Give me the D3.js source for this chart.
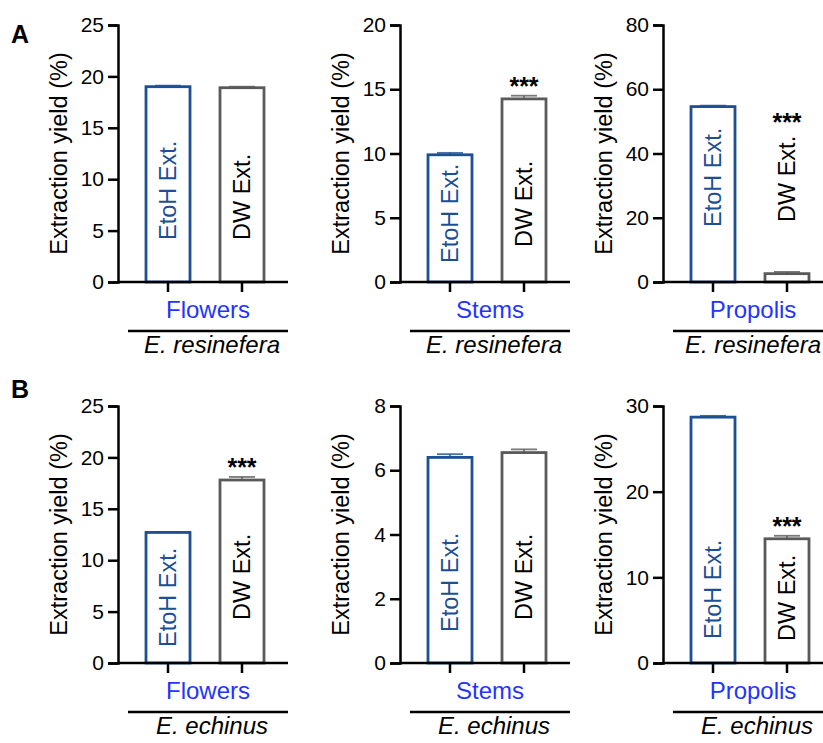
<!DOCTYPE html>
<html>
<head>
<meta charset="utf-8">
<script src="https://cdn.jsdelivr.net/npm/d3@7"></script>
<style>
  body { margin: 0; background: #fff; }
  svg { display: block; font-family: "Liberation Sans", Arial, Helvetica, sans-serif; }
</style>
</head>
<body>
<div id="chart"></div>
<script>
// data
var tissues = ['Flowers', 'Stems', 'Propolis'];
var species = ['E. resinefera', 'E. echinus'];
var extracts = ['EtoH Ext.', 'DW Ext.'];

var etohA = [19.0, 9.9, 54.6];
var etohErrA = [0.1, 0.15, 0.3];
var dwA = [18.9, 14.25, 2.6];
var dwErrA = [0.1, 0.25, 0.55];

var etohB = [12.7, 6.4, 28.7];
var etohErrB = [0.05, 0.1, 0.15];
var dwB = [17.8, 6.55, 14.5];
var dwErrB = [0.3, 0.1, 0.35];

var yMaxA = [25, 20, 80], yStepA = [5, 5, 20];
var yMaxB = [25, 8, 30], yStepB = [5, 2, 10];

var sigA = [['', ''], ['', '***'], ['', '***']];
var sigB = [['', '***'], ['', ''], ['', '***']];

// layout
var width = 823, height = 743;
var axisX = [118, 400, 663];
var rows = [
  {letter: 'A', top: 25, bottom: 282, letterY: 43},
  {letter: 'B', top: 406, bottom: 663, letterY: 398}
];
// distance from the baseline to the end of each rotated bar label
var labelGapA = [[42, 42], [19, 35], [55, 60]];
var labelGapB = [[16, 43], [31, 43], [24, 22]];

var blue = '#1c4f93', grey = '#5a5a5a', brightBlue = '#1f35ff';

var svg = d3.select('#chart').append('svg')
    .attr('width', width)
    .attr('height', height);

function drawPanel(row, col, vals, errs, yMax, step, sig, gaps, speciesName) {
    var x0 = axisX[col];
    var yScale = d3.scaleLinear().domain([0, yMax]).range([row.bottom, row.top]);
    var xScale = d3.scalePoint().domain(extracts).range([x0 + 50, x0 + 124]);
    var barW = 44;

    var g = svg.append('g');

    // y axis
    var yAxis = d3.axisLeft(yScale)
        .tickValues(d3.range(0, yMax + step / 2, step))
        .tickSize(10).tickPadding(4).tickFormat(d3.format('d'));
    var ya = g.append('g').attr('transform', 'translate(' + x0 + ',0)').call(yAxis);
    ya.select('.domain').attr('stroke', '#000').attr('stroke-width', 2.5);
    ya.selectAll('.tick line').attr('stroke', '#000').attr('stroke-width', 2.5);
    ya.selectAll('.tick text').attr('font-size', 21).attr('fill', '#000')
        .attr('font-family', '"Liberation Sans", Arial, sans-serif');

    // y title
    g.append('text')
        .attr('transform', 'translate(' + (x0 - 51) + ',' + ((row.top + row.bottom) / 2) + ') rotate(-90)')
        .attr('text-anchor', 'middle')
        .attr('font-size', 23.5)
        .text('Extraction yield (%)');

    // bars
    var data = extracts.map(function(k, i) {
        return {key: k, v: vals[i], e: errs[i], sig: sig[i], gap: gaps[i], color: i === 0 ? blue : grey};
    });

    g.selectAll('.bar').data(data).enter().append('rect')
        .attr('class', 'bar')
        .attr('x', function(d) { return xScale(d.key) - barW / 2; })
        .attr('y', function(d) { return yScale(d.v); })
        .attr('width', barW)
        .attr('height', function(d) { return row.bottom - yScale(d.v); })
        .attr('fill', '#fff')
        .attr('stroke', function(d) { return d.color; })
        .attr('stroke-width', 2.8);

    // error bars (upper only)
    data.forEach(function(d) {
        var cx = xScale(d.key);
        g.append('line')
            .attr('x1', cx).attr('x2', cx)
            .attr('y1', yScale(d.v)).attr('y2', yScale(d.v + d.e))
            .attr('stroke', d.color).attr('stroke-width', 1.8).attr('opacity', 0.8);
        g.append('line')
            .attr('x1', cx - 13).attr('x2', cx + 13)
            .attr('y1', yScale(d.v + d.e)).attr('y2', yScale(d.v + d.e))
            .attr('stroke', d.color).attr('stroke-width', 1.8).attr('opacity', 0.8);
    });

    // baseline
    g.append('line')
        .attr('x1', x0).attr('x2', x0 + 170)
        .attr('y1', row.bottom).attr('y2', row.bottom)
        .attr('stroke', '#000').attr('stroke-width', 2.5);

    // x ticks
    g.selectAll('.xtick').data(extracts).enter().append('line')
        .attr('x1', function(d) { return xScale(d); })
        .attr('x2', function(d) { return xScale(d); })
        .attr('y1', row.bottom).attr('y2', row.bottom + 10)
        .attr('stroke', '#000').attr('stroke-width', 2.5);

    // rotated labels inside bars, significance stars above
    data.forEach(function(d, i) {
        var ly = row.bottom - d.gap;
        var t = g.append('text')
            .attr('transform', 'translate(' + xScale(d.key) + ',' + ly + ') rotate(-90)')
            .attr('dy', '0.36em')
            .attr('font-size', 23.5)
            .attr('fill', i === 0 ? blue : '#000')
            .text(d.key);
        if (d.sig) {
            var top = ly - t.node().getComputedTextLength();
            var sy = Math.min(yScale(d.v + d.e) - 1, top - 5);
            g.append('text')
                .attr('x', xScale(d.key))
                .attr('y', sy)
                .attr('text-anchor', 'middle')
                .attr('font-size', 25)
                .attr('font-weight', 'bold')
                .text(d.sig);
        }
    });

    // tissue label, underline, species
    var cx = x0 + 90;
    g.append('text')
        .attr('x', cx).attr('y', row.bottom + 36)
        .attr('text-anchor', 'middle')
        .attr('font-size', 24)
        .attr('fill', brightBlue)
        .text(tissues[col]);
    g.append('line')
        .attr('x1', x0 + 10).attr('x2', x0 + 170)
        .attr('y1', row.bottom + 49).attr('y2', row.bottom + 49)
        .attr('stroke', '#000').attr('stroke-width', 2.5);
    var sp = g.append('text')
        .attr('x', cx + 4).attr('y', row.bottom + 71)
        .attr('text-anchor', 'middle')
        .attr('font-size', 24)
        .attr('font-style', 'italic')
        .text(speciesName);
    // keep the species name inside the picture
    var half = sp.node().getComputedTextLength() / 2;
    if (cx + 4 + half > width - 2) sp.attr('x', width - 2 - half);
}

rows.forEach(function(row, r) {
    svg.append('text')
        .attr('x', 11).attr('y', row.letterY)
        .attr('font-size', 25)
        .attr('font-weight', 'bold')
        .text(row.letter);
    for (var c = 0; c < 3; c++) {
        if (r === 0) drawPanel(row, c, [etohA[c], dwA[c]], [etohErrA[c], dwErrA[c]], yMaxA[c], yStepA[c], sigA[c], labelGapA[c], species[0]);
        else drawPanel(row, c, [etohB[c], dwB[c]], [etohErrB[c], dwErrB[c]], yMaxB[c], yStepB[c], sigB[c], labelGapB[c], species[1]);
    }
});
</script>
</body>
</html>
